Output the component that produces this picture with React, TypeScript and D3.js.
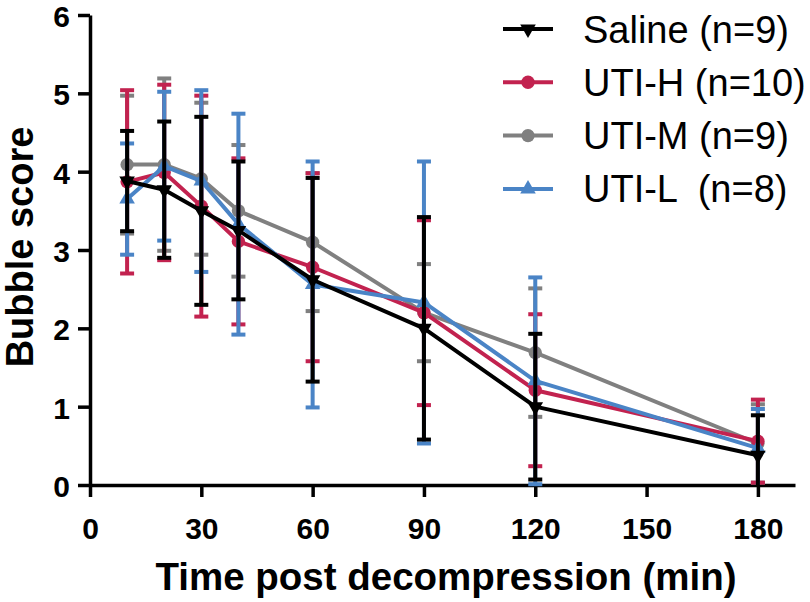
import React, { useEffect, useRef } from 'react';
import * as d3 from 'd3';

const times = [10, 20, 30, 40, 60, 90, 120, 180];

const salineMean = [3.88, 3.77, 3.5, 3.25, 2.62, 2.0, 1.0, 0.38];
const salineSd = [0.64, 0.87, 1.2, 0.88, 1.3, 1.42, 0.93, 0.51];

const utiHMean = [3.87, 3.99, 3.56, 3.11, 2.78, 2.2, 1.21, 0.56];
const utiHSd = [1.17, 1.12, 1.41, 1.06, 1.2, 1.18, 0.97, 0.53];

const utiMMean = [4.09, 4.09, 3.91, 3.5, 3.1, 2.2, 1.69, 0.53];
const utiMSd = [0.88, 1.1, 0.97, 0.84, 0.88, 0.62, 0.82, 0.5];

const utiLMean = [3.65, 4.07, 3.88, 3.33, 2.56, 2.33, 1.33, 0.47];
const utiLSd = [0.71, 0.95, 1.16, 1.41, 1.57, 1.8, 1.32, 0.5];

const xTicks = [0, 30, 60, 90, 120, 150, 180];
const yTicks = [0, 1, 2, 3, 4, 5, 6];

type Series = {
    label: string;
    color: string;
    marker: 'down' | 'up' | 'circle';
    mean: number[];
    sd: number[];
};

// drawing order: last one ends up on top
const series: Series[] = [
    { label: 'UTI-M (n=9)', color: '#808080', marker: 'circle', mean: utiMMean, sd: utiMSd },
    { label: 'UTI-H (n=10)', color: '#c2224f', marker: 'circle', mean: utiHMean, sd: utiHSd },
    { label: 'UTI-L  (n=8)', color: '#4a84c6', marker: 'up', mean: utiLMean, sd: utiLSd },
    { label: 'Saline (n=9)', color: '#000000', marker: 'down', mean: salineMean, sd: salineSd },
];

const legendOrder = ['Saline (n=9)', 'UTI-H (n=10)', 'UTI-M (n=9)', 'UTI-L  (n=8)'];

const FONT = '"Liberation Sans", Arial, Helvetica, sans-serif';

export default function App() {
    const svgRef = useRef<SVGSVGElement>(null);
    const width = 810;
    const height = 602;

    useEffect(() => {
        if (!svgRef.current) return;
        const svg = d3.select(svgRef.current);
        svg.selectAll('*').remove();

        const x = d3.scaleLinear().domain([0, 190]).range([90, 795]);
        const y = d3.scaleLinear().domain([0, 6]).range([485, 15]);

        const markerPath = (m: Series['marker'], size: number) => {
            if (m === 'circle') return d3.symbol().type(d3.symbolCircle).size(size)()!;
            return d3.symbol().type(d3.symbolTriangle).size(size * 0.75)()!;
        };

        // Axes
        const xAxis = svg.append('g')
            .attr('transform', `translate(0,${y(0)})`)
            .call(d3.axisBottom(x).tickValues(xTicks).tickSize(12).tickSizeOuter(0).tickFormat(d3.format('d')));
        const yAxis = svg.append('g')
            .attr('transform', `translate(${x(0)},0)`)
            .call(d3.axisLeft(y).tickValues(yTicks).tickSize(12).tickSizeOuter(0).tickPadding(8).tickFormat(d3.format('d')));

        [xAxis, yAxis].forEach(a => {
            a.selectAll('path.domain').attr('stroke', '#000').attr('stroke-width', 3.5);
            a.selectAll('.tick line').attr('stroke', '#000').attr('stroke-width', 3.5);
            a.selectAll('.tick text')
                .attr('fill', '#000')
                .style('font-family', FONT)
                .style('font-size', '30px')
                .style('font-weight', 'bold');
        });
        xAxis.selectAll('.tick text').attr('y', 54).attr('dy', 0);
        yAxis.selectAll('.tick text').attr('dy', '0.38em');

        svg.append('text')
            .attr('x', 446)
            .attr('y', 590)
            .attr('text-anchor', 'middle')
            .style('font-family', FONT)
            .style('font-size', '38.5px')
            .style('font-weight', 'bold')
            .text('Time post decompression (min)');

        svg.append('text')
            .attr('transform', `translate(33,247) rotate(-90)`)
            .attr('text-anchor', 'middle')
            .style('font-family', FONT)
            .style('font-size', '38px')
            .style('font-weight', 'bold')
            .text('Bubble score');

        const line = d3.line<number>()
            .x((_, i) => x(times[i]))
            .y(d => y(d));

        series.forEach(s => {
            const g = svg.append('g');
            // error bars, clipped at the x axis
            times.forEach((t, i) => {
                const hi = s.mean[i] + s.sd[i];
                const rawLo = s.mean[i] - s.sd[i];
                const lo = Math.max(0, rawLo);
                const cx = x(t);
                g.append('line')
                    .attr('x1', cx).attr('x2', cx)
                    .attr('y1', y(lo)).attr('y2', y(hi))
                    .attr('stroke', s.color).attr('stroke-width', 4);
                g.append('line')
                    .attr('x1', cx - 7).attr('x2', cx + 7)
                    .attr('y1', y(hi)).attr('y2', y(hi))
                    .attr('stroke', s.color).attr('stroke-width', 4);
                if (rawLo >= 0) {
                    g.append('line')
                        .attr('x1', cx - 7).attr('x2', cx + 7)
                        .attr('y1', y(lo)).attr('y2', y(lo))
                        .attr('stroke', s.color).attr('stroke-width', 4);
                }
            });
            g.append('path')
                .attr('d', line(s.mean))
                .attr('fill', 'none')
                .attr('stroke', s.color)
                .attr('stroke-width', 4)
                .attr('stroke-linejoin', 'round');
            g.selectAll('path.mk')
                .data(s.mean)
                .join('path')
                .attr('class', 'mk')
                .attr('d', markerPath(s.marker, 140))
                .attr('transform', (d, i) =>
                    `translate(${x(times[i])},${y(d)})${s.marker === 'down' ? ' rotate(180)' : ''}`)
                .attr('fill', s.color);
        });

        // Legend
        const legend = svg.append('g');
        legendOrder.forEach((label, i) => {
            const s = series.find(d => d.label === label)!;
            const cy = 29 + i * 53.3;
            legend.append('line')
                .attr('x1', 503).attr('x2', 553)
                .attr('y1', cy).attr('y2', cy)
                .attr('stroke', s.color).attr('stroke-width', 4);
            legend.append('path')
                .attr('d', markerPath(s.marker, 140))
                .attr('transform', `translate(528,${cy})${s.marker === 'down' ? ' rotate(180)' : ''}`)
                .attr('fill', s.color);
            legend.append('text')
                .attr('x', 583)
                .attr('y', cy + 13.5)
                .style('font-family', FONT)
                .style('font-size', '38px')
                .style('white-space', 'pre')
                .attr('fill', '#000')
                .text(label);
        });
    }, []);

    return (
        <svg
            ref={svgRef}
            width={width}
            height={height}
            style={{ position: 'absolute', left: 0, top: 0, background: '#fff' }}
        />
    );
}
